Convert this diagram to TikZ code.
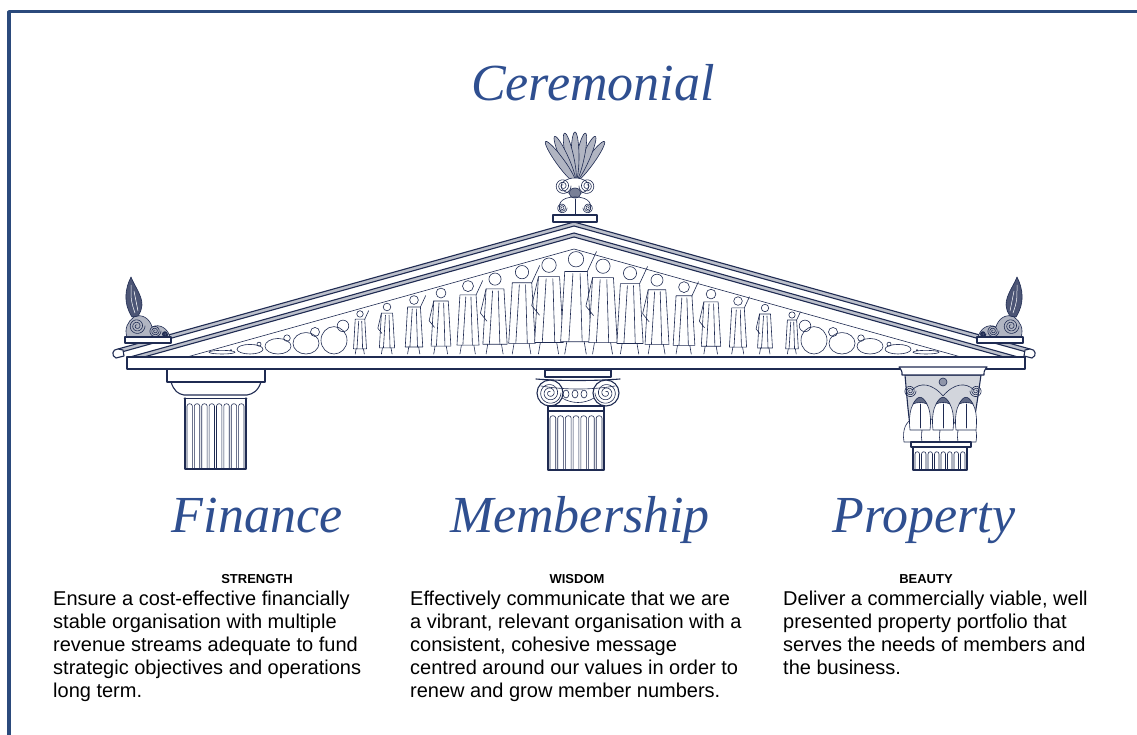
\documentclass[tikz,border=0pt]{standalone}
\usepackage{fontspec}
\setmainfont{Liberation Sans}
\newfontfamily\scriptface{Liberation Serif}
\definecolor{frameblue}{HTML}{2B4A7C}
\definecolor{titleblue}{HTML}{2F4F90}
\definecolor{navy}{HTML}{1F2B52}
\newcommand\flutes[5]{%
  \pgfmathsetmacro\fw{(#2-#1)/#5}%
  \foreach \k in {1,...,#5}{%
    \pgfmathsetmacro\xa{#1+(\k-1)*\fw+1}%
    \pgfmathsetmacro\xb{#1+\k*\fw-1}%
    \draw[fine] (\xa,#4) -- (\xa,{#3+3}) .. controls (\xa,#3) and (\xb,#3) .. (\xb,{#3+3}) -- (\xb,#4);
  }}
\tikzset{
  title/.style={font=\scriptface\itshape\fontsize{52}{56}\selectfont, text=titleblue, inner sep=0pt, anchor=base},
  head/.style={font=\bfseries\fontsize{13}{15}\selectfont, anchor=base, inner sep=0pt},
  body/.style={font=\fontsize{20}{23}\selectfont, align=left, anchor=base west, inner sep=0pt},
  arch/.style={draw=navy, line width=1.1pt},
  fine/.style={draw=navy, line width=0.6pt},
  pics/spiral/.style={code={\draw[fine] plot[domain=0:1000, samples=90, smooth, variable=\t] ({#1*(1-\t/1150)*cos(\t)},{#1*(1-\t/1150)*sin(\t)});}},
  pics/sideacro/.style={code={
    \draw[fine, fill=navy!35] (-21,-6) .. controls (-24,-14) and (-20,-22) .. (-14,-26) .. controls (-6,-30) and (2,-24) .. (4,-16) .. controls (12,-20) and (20,-14) .. (22,-6) -- cycle;
    \pic at (-11,-17) {spiral=8};
    \pic at (7,-12) {spiral=6};
    \pic at (17,-9) {spiral=3};
    \draw[fine, fill=navy!80] (-16,-26) .. controls (-25,-40) and (-23,-54) .. (-17,-66) .. controls (-13,-56) and (-6,-48) .. (-6,-38) .. controls (-7,-32) .. (-10,-27) -- cycle;
    \draw[white, line width=0.5pt] (-13,-30) .. controls (-17,-42) .. (-17,-58) (-10,-32) .. controls (-12,-42) .. (-14,-52);
    \draw[arch, fill=white] (-23,-6) rectangle (23,0);
  }},
}
\begin{document}
\begin{tikzpicture}[x=1pt, y=-1pt, line join=round, line cap=round]
\useasboundingbox (0,0) rectangle (1137,735);
\fill[white] (0,0) rectangle (1137,735);
% frame
\draw[frameblue, line width=3.5pt] (8.75,735) -- (8.75,11.75) -- (1137,11.75);

% sculptures in the tympanum
\foreach \x [count=\i] in {360,387,...,792} {
  \pgfmathsetmacro\h{103-0.279*abs(\x-574)}
  \pgfmathsetmacro\r{0.075*\h}
  \pgfmathsetmacro\ft{354-\h}
  \pgfmathsetmacro\ys{\ft+2.6*\r}
  \pgfmathsetmacro\yh{354-0.12*\h}
  \draw[fine] (\x,{\ft+\r}) circle ({\r});
  \draw[fine, fill=white] ({\x-0.11*\h},\ys) -- ({\x+0.11*\h},\ys) -- ({\x+0.15*\h},\yh) -- ({\x-0.15*\h},\yh) -- cycle;
  \draw[fine] ({\x-0.03*\h},{\ys+2}) -- ({\x-0.07*\h},\yh) ({\x+0.04*\h},{\ys+2}) -- ({\x+0.06*\h},\yh)
    ({\x-0.09*\h},\yh) -- ({\x-0.11*\h},354) ({\x+0.08*\h},\yh) -- ({\x+0.1*\h},354);
  \ifodd\i
    \draw[fine] ({\x+0.11*\h},\ys) -- ({\x+0.2*\h},\ft);
  \else
    \draw[fine] ({\x-0.11*\h},\ys) -- ({\x-0.18*\h},{\ys+0.3*\h}) -- ({\x-0.1*\h},{\ys+0.4*\h});
  \fi
}
\foreach \x in {222,250,278,306,334,814,842,870,898,926} {
  \pgfmathsetmacro\h{103-0.279*abs(\x-574)}
  \draw[fine, fill=white] (\x,{354-0.38*\h}) ellipse (13 and {0.38*\h});
  \draw[fine] ({\x+(\x<574?9:-9)},{354-0.78*\h}) circle ({0.16*\h});
}

% raking cornice
\fill[navy!30] (118,349) -- (574,222) -- (1030,349) -- (1030,353) -- (574,226) -- (118,353) -- cycle;
\draw[arch] (118,349) -- (574,222) -- (1030,349);
\draw[arch] (118,353) -- (574,226) -- (1030,353);
\fill[navy!30] (130,357) -- (574,233) -- (1018,357) -- (1004,357) -- (574,237) -- (144,357) -- cycle;
\draw[arch] (130,357) -- (574,233) -- (1018,357);
\draw[arch] (144,357) -- (574,237) -- (1004,357);
\draw[fine] (187,357) -- (574,249) -- (961,357);
\draw[arch, fill=white] (118,349) .. controls (112,349) and (111,356) .. (116,358) -- (124,356) -- (123,350) -- cycle;
\draw[arch, fill=white] (1030,349) .. controls (1036,349) and (1037,356) .. (1032,358) -- (1024,356) -- (1025,350) -- cycle;

% horizontal cornice
\draw[arch, fill=white] (127,357) rectangle (1025,369);

% central acroterion
\foreach \a in {-36,-24,-12,0,12,24,36}
  \draw[fine, fill=navy!35, rotate around={\a:(575,182)}] (575,157) ellipse (4 and 25);
\draw[fine, fill=white] (575,186) ellipse (14 and 8);
\pic at (563,186) {spiral=8};
\pic[xscale=-1] at (587,186) {spiral=8};
\draw[fine, fill=navy!60] (575,193) ellipse (6 and 5);
\draw[fine] (575,197) .. controls (560,197) and (557,205) .. (561,212) (575,197) .. controls (590,197) and (593,205) .. (589,212);
\pic at (562,208) {spiral=5};
\pic[xscale=-1] at (588,208) {spiral=5};
\draw[fine] (575,199) -- (575,215);
\draw[arch, fill=white] (553,215) rectangle (597,222);

% side acroteria
\pic at (148,343) {sideacro};
\pic[xscale=-1] at (1000,343) {sideacro};

% Doric column
\draw[arch, fill=white] (167,369) rectangle (265,382);
\draw[arch] (171,382) .. controls (174,391) and (178,394) .. (184,395) -- (247,395) .. controls (253,394) and (258,391) .. (261,382);
\draw[fine] (184,398) -- (247,398);
\draw[arch] (185,398) -- (185,469) -- (246,469) -- (246,398);
\flutes{186}{245}{403}{469}{8}

% Ionic column
\draw[arch, fill=white] (545,370) rectangle (611,377);
\draw[arch] (536,379) .. controls (560,381) and (596,381) .. (620,379);
\draw[fine] (541,386) .. controls (565,390) and (591,390) .. (615,386);
\draw[fine] (562,398) .. controls (572,404) and (584,404) .. (594,398);
\foreach \e in {566,575,584} \draw[fine] (\e,394) ellipse (3 and 4);
\draw[arch] (550,393) circle (13);
\draw[arch] (606,393) circle (13);
\pic at (550,393) {spiral=11};
\pic[xscale=-1] at (606,393) {spiral=11};
\draw[arch, fill=white] (548,406) rectangle (604,411);
\draw[arch] (548,411) -- (548,470) -- (604,470) -- (604,411);
\flutes{549}{603}{415}{470}{7}

% Corinthian column
\draw[arch, fill=navy!20] (905,375) .. controls (908,410) .. (912,442) -- (970,442) .. controls (976,410) .. (981,375) -- cycle;
\foreach \lx in {913,931,949,967}
  \draw[fine, fill=white] ({\lx-9},442) .. controls ({\lx-11},430) and ({\lx-7},421) .. (\lx,419) .. controls ({\lx+7},421) and ({\lx+11},430) .. ({\lx+9},442) -- cycle;
\foreach \lx in {920,943,966} {
  \draw[fine, fill=white] ({\lx-10},430) .. controls ({\lx-12},412) and ({\lx-8},401) .. (\lx,398) .. controls ({\lx+8},401) and ({\lx+12},412) .. ({\lx+10},430) -- cycle;
  \draw[fine, fill=navy!70] ({\lx-7},404) .. controls ({\lx-2},395) and ({\lx+2},395) .. ({\lx+7},404) .. controls ({\lx+3},402) and ({\lx-3},402) .. ({\lx-7},404) -- cycle;
  \draw[fine] (\lx,404) -- (\lx,428);
}
\draw[fine] (943,396) .. controls (932,383) and (920,382) .. (912,390);
\draw[fine] (943,396) .. controls (954,383) and (966,382) .. (974,390);
\pic at (910,391) {spiral=6};
\pic[xscale=-1] at (976,391) {spiral=6};
\draw[fine, fill=navy!50] (943,382) circle (4);
\draw[arch, fill=white] (899,367) -- (987,367) .. controls (984,371) .. (984,375) -- (902,375) .. controls (902,371) .. cycle;
\draw[arch, fill=white] (911,442) rectangle (971,447);
\draw[arch] (913,447) -- (913,470) -- (967,470) -- (967,447);
\flutes{914}{966}{451}{470}{8}

% titles
\node[title] (cer) at (593,101) {Ceremonial};
\node[title] (fin) at (257,532) {Finance};
\node[title] (mem) at (580,532) {Membership};
\node[title] (pro) at (924,532) {Property};

% headings
\node[head] (str) at (257,583) {STRENGTH};
\node[head] (wis) at (577,583) {WISDOM};
\node[head] (bea) at (926,583) {BEAUTY};

% body texts (base anchor = last line)
\node[body] (t1) at (53,697) {Ensure a cost-effective financially\\stable organisation with multiple\\revenue streams adequate to fund\\strategic objectives and operations\\long term.};
\node[body] (t2) at (410,697) {Effectively communicate that we are\\a vibrant, relevant organisation with a\\consistent, cohesive message\\centred around our values in order to\\renew and grow member numbers.};
\node[body] (t3) at (783,674) {Deliver a commercially viable, well\\presented property portfolio that\\serves the needs of members and\\the business.};
\end{tikzpicture}
\end{document}
